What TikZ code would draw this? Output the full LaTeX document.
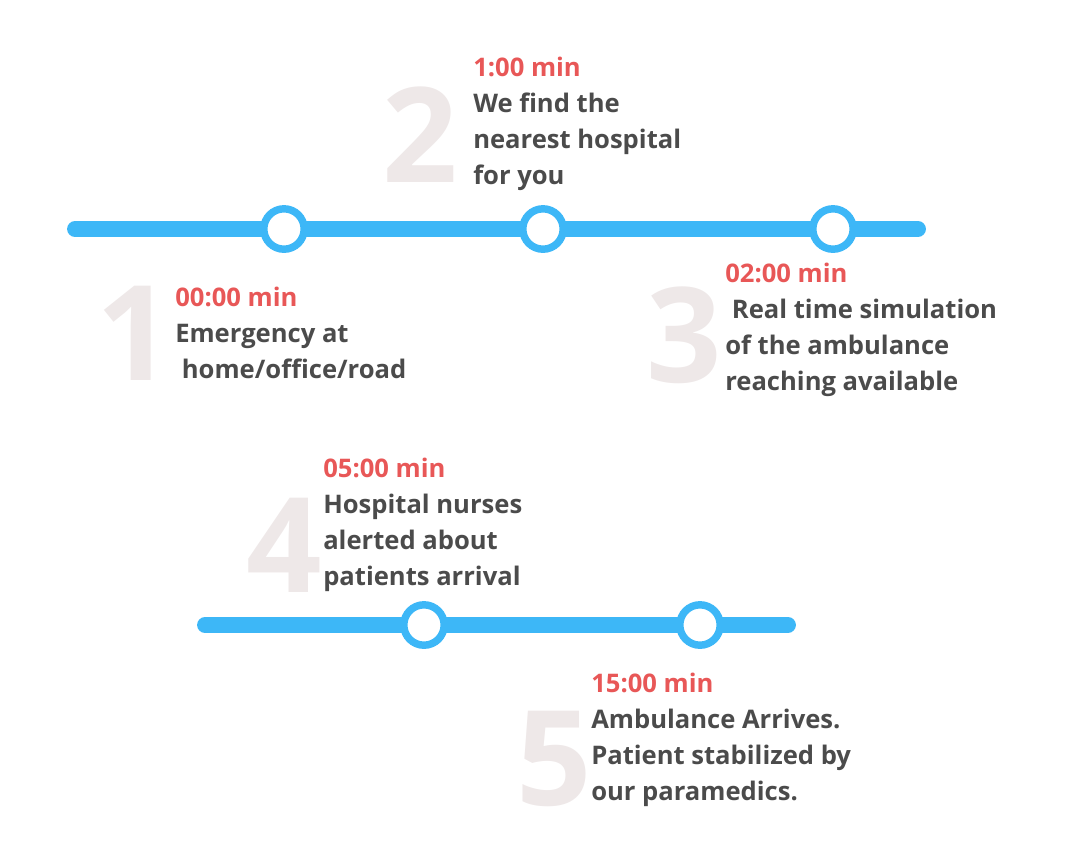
\documentclass[tikz,border=0pt]{standalone}
\usepackage{fontspec}
\setmainfont{Open Sans}
\definecolor{barblue}{HTML}{3DB7F7}
\definecolor{timered}{HTML}{E85757}
\definecolor{textgrey}{HTML}{4B4B4B}
\definecolor{numgrey}{HTML}{EEE8E8}
\tikzset{
  bar/.style={draw=barblue,line width=11.3pt,line cap=round},
  stop/.style={circle,draw=barblue,line width=5.3pt,fill=white,minimum size=1.01cm,inner sep=0pt},
  bignum/.style={anchor=base east,inner sep=0pt,text=numgrey,font=\fontsize{94}{94}\selectfont\bfseries},
  steptext/.style={anchor=north west,inner sep=0pt,align=left,text=textgrey,font=\fontsize{18.2}{25.5}\selectfont\bfseries},
}
\newcommand{\when}[1]{\textcolor{timered}{#1}}
\begin{document}
\begin{tikzpicture}[x=0.025cm,y=-0.025cm]

      \useasboundingbox (0,0) rectangle (1080,864);

      \coordinate (a1) at (75,229);
      \coordinate (b1) at (918,229);
      \coordinate (a2) at (205,625);
      \coordinate (b2) at (788,625);

      \draw[bar] (a1) -- (b1);
      \draw[bar] (a2) -- (b2);

      \begin{scope}[every node/.style={stop}]
        \node (1) at (284,229) {};
        \node (2) at (543,229) {};
        \node (3) at (833,229) {};
        \node (4) at (424,625) {};
        \node (5) at (700,625) {};
      \end{scope}

      \begin{scope}[every node/.style={bignum}]
        \node (n1) at (172,380) {1};
        \node (n2) at (458,182) {2};
        \node (n3) at (722,382) {3};
        \node (n4) at (322,592) {4};
        \node (n5) at (592,805) {5};
      \end{scope}

      \begin{scope}[every node/.style={steptext}]
        \node (t1) at (175,287) {\when{00:00 min}\\Emergency at\\\ home/office/road};
        \node (t2) at (473,57) {\when{1:00 min}\\We find the\\nearest hospital\\for you};
        \node (t3) at (725,263) {\when{02:00 min}\\\ Real time simulation\\of the ambulance\\reaching available};
        \node (t4) at (323,458) {\when{05:00 min}\\Hospital nurses\\alerted about\\patients arrival};
        \node (t5) at (591,673) {\when{15:00 min}\\Ambulance Arrives.\\Patient stabilized by\\our paramedics.};
      \end{scope}

    \end{tikzpicture}
\end{document}
